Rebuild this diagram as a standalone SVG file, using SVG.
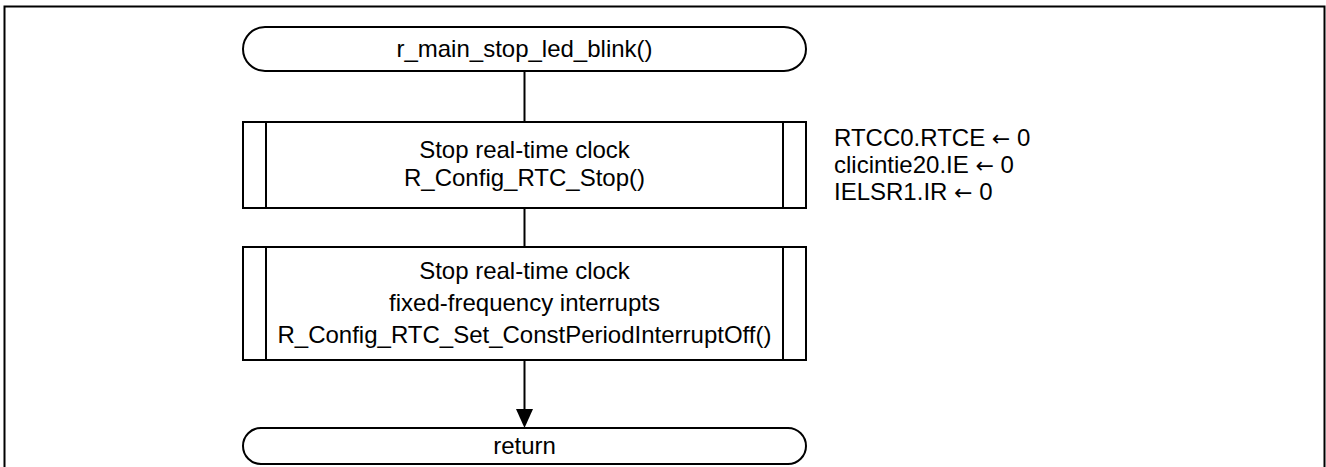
<svg xmlns="http://www.w3.org/2000/svg" width="1326" height="467" viewBox="0 0 1326 467">
  <defs>
    <style>
      .frame { fill: none; stroke: #000; stroke-width: 2; }
      .shape { fill: #fff; stroke: #000; stroke-width: 2; }
      .edge { fill: none; stroke: #000; stroke-width: 2; }
      text { font-family: "Liberation Sans", Arial, sans-serif; font-size: 24px; fill: #000; }
      .c { text-anchor: middle; }
      .arr { font-family: "DejaVu Sans", sans-serif; font-size: 22px; }
    </style>
  </defs>

  <rect class="frame" x="4.5" y="6.5" width="1320" height="470"/>

  <!-- connectors -->
  <g id="connectors">
    <line class="edge" x1="524.5" y1="71" x2="524.5" y2="122"/>
    <line class="edge" x1="524.5" y1="208" x2="524.5" y2="247"/>
    <path class="edge" d="M524.5,360 V409"/>
    <path d="M516,409 L533,409 L524.5,428 Z" fill="#000"/>
  </g>

  <!-- start terminal -->
  <g id="start">
    <rect class="shape" x="243" y="27" width="563" height="44" rx="22" ry="22"/>
    <text class="c" x="524.5" y="57">r_main_stop_led_blink()</text>
  </g>

  <!-- predefined process: stop RTC -->
  <g id="rtc-stop">
    <rect class="shape" x="243" y="122" width="563" height="86"/>
    <line class="edge" x1="266" y1="122" x2="266" y2="208"/>
    <line class="edge" x1="783" y1="122" x2="783" y2="208"/>
    <text class="c" x="524.5" y="158">Stop real-time clock</text>
    <text class="c" x="524.5" y="186">R_Config_RTC_Stop()</text>
  </g>

  <!-- register notes -->
  <g id="rtc-stop-note">
    <text x="834" y="146">RTCC0.RTCE <tspan class="arr">←</tspan> 0</text>
    <text x="834" y="173">clicintie20.IE <tspan class="arr">←</tspan> 0</text>
    <text x="834" y="200">IELSR1.IR <tspan class="arr">←</tspan> 0</text>
  </g>

  <!-- predefined process: stop constant-period interrupt -->
  <g id="rtc-int-off">
    <rect class="shape" x="243" y="247" width="563" height="113"/>
    <line class="edge" x1="266" y1="247" x2="266" y2="360"/>
    <line class="edge" x1="783" y1="247" x2="783" y2="360"/>
    <text class="c" x="524.5" y="279">Stop real-time clock</text>
    <text class="c" x="524.5" y="311">fixed-frequency interrupts</text>
    <text class="c" x="524.5" y="343">R_Config_RTC_Set_ConstPeriodInterruptOff()</text>
  </g>

  <!-- end terminal -->
  <g id="end">
    <rect class="shape" x="243" y="428" width="563" height="36" rx="18" ry="18"/>
    <text class="c" x="524.5" y="454">return</text>
  </g>
</svg>
